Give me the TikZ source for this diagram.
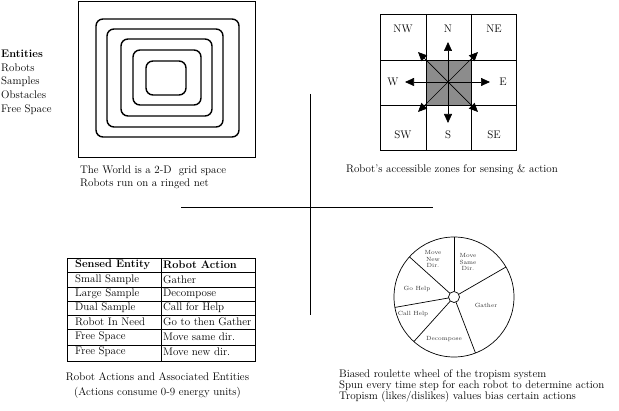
\documentclass[tikz,border=0pt]{standalone}
\usepackage{tikz}
\usetikzlibrary{arrows.meta, positioning, calc}

\begin{document}
\begin{tikzpicture}[
  x=1pt, y=1pt,
  every node/.style={font=\fontsize{11}{13.6}\selectfont, inner sep=0pt},
  frame/.style={draw, line width=0.7pt},
  ring/.style={draw, line width=1.4pt, rounded corners=7pt},
  arr/.style={-{Triangle[length=9pt,width=8pt]}, line width=0.7pt},
  capline/.style={anchor=west},
  cell/.style={anchor=west},
  slice/.style={font=\fontsize{6}{6.5}\selectfont, align=center, text=black!80},
]
\useasboundingbox (0,0) rectangle (619,410);

%% The world
\draw[frame] (78,409) rectangle (255,253);
\draw[ring] (96,391)  rectangle (239,273);
\draw[ring] (107,381) rectangle (223,283);
\draw[ring] (121,371) rectangle (212,294);
\draw[ring] (133,360) rectangle (201,305);
\draw[ring] (146,349) rectangle (186,315);

\node[anchor=north west, align=left] (ent) at (1,360)
  {\textbf{Entities}\\Robots\\Samples\\Obstacles\\Free Space};

\node[capline] (world1) at (80,239) {The World is a 2-D~ grid space};
\node[capline] (world2) at (80,226) {Robots run on a ringed net};

%% Zones
\fill[black!45] (426,350) rectangle (471,305);
\draw[frame] (380,396) rectangle (516,260);
\foreach \x in {426,471}
  \draw[frame] (\x,396) -- (\x,260);
\foreach \y in {350,305}
  \draw[frame] (380,\y) -- (516,\y);

\node (nw) at (403,381) {NW};
\node (n)  at (448,381) {N};
\node (ne) at (494,381) {NE};
\node (w)  at (393,328) {W};
\node (e)  at (503,328) {E};
\node (sw) at (403,275) {SW};
\node (s)  at (448,275) {S};
\node (se) at (494,275) {SE};

\coordinate (c)   at (448,328);
\coordinate (tn)  at (448,368);
\coordinate (ts)  at (448,287);
\coordinate (tw)  at (405,328);
\coordinate (te)  at (490,328);
\coordinate (tne) at (478,358);
\coordinate (tnw) at (418,358);
\coordinate (tse) at (478,298);
\coordinate (tsw) at (418,298);
\foreach \t in {tn,ts,tw,te,tne,tnw,tse,tsw}
  \draw[arr] (c) -- (\t);

\node (zones) at (452,240) {Robot's accessible zones for sensing \& action};

%% Cross
\draw[frame] (310,316) -- (310,95);
\draw[frame] (181,203) -- (433,203);

%% Table
\draw[frame] (67,152) rectangle (255,49);
\draw[frame] (161,152) -- (161,49);
\foreach \y in {138,123,109,95,81,65}
  \draw[frame] (67,\y) -- (255,\y);

\node[cell] (h1) at (75,145)  {\textbf{Sensed Entity}};
\node[cell] (h2) at (163,145) {\textbf{Robot Action}};
\node[cell] (a1) at (75,130.5)  {Small Sample};
\node[cell] (b1) at (163,130.5) {Gather};
\node[cell] (a2) at (75,116)  {Large Sample};
\node[cell] (b2) at (163,116) {Decompose};
\node[cell] (a3) at (75,102)  {Dual Sample};
\node[cell] (b3) at (163,102) {Call for Help};
\node[cell] (a4) at (75,88)   {Robot In Need};
\node[cell] (b4) at (163,88)  {Go to then Gather};
\node[cell] (a5) at (75,73)   {Free Space};
\node[cell] (b5) at (163,73)  {Move same dir.};
\node[cell] (a6) at (75,58)   {Free Space};
\node[cell] (b6) at (163,58)  {Move new dir.};

\node (tab1) at (157.5,33) {Robot Actions and Associated Entities};
\node (tab2) at (157.5,17) {(Actions consume 0-9 energy units)};

%% Roulette wheel
\coordinate (hub) at (454,113);
\draw[frame] (hub) circle[radius=60];
\draw[frame] (hub) circle[radius=5.5];
\foreach \a in {90,30,-69,-132,-170,138}
  \draw[frame] ($(hub)+(\a:5.5)$) -- ($(hub)+(\a:60)$);

\node[slice] (mnew)  at (433,151) {Move\\New\\Dir.};
\node[slice] (msame) at (468,148) {Move\\Same\\Dir.};
\node[slice] (gohlp) at (417,121) {Go Help};
\node[slice] (gath)  at (486,105) {Gather};
\node[slice] (calh)  at (413,96)  {Call Help};
\node[slice] (dec)   at (444,71)  {Decompose};

\node[capline] (rw1) at (339,35) {Biased roulette wheel of the tropism system};
\node[capline] (rw2) at (339,24) {Spun every time step for each robot to determine action};
\node[capline] (rw3) at (339,13) {Tropism (likes/dislikes) values bias certain actions};

\end{tikzpicture}
\end{document}
